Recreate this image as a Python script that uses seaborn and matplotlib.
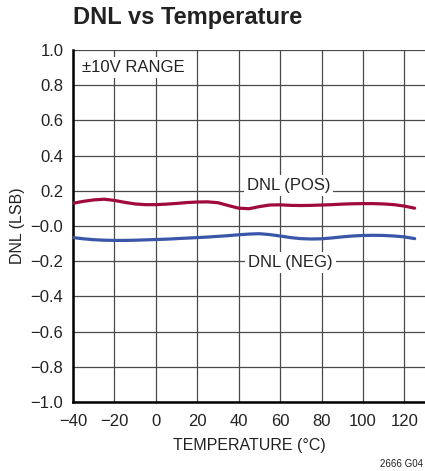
"""DNL vs temperature chart."""

import matplotlib
matplotlib.use('Agg')
import matplotlib.pyplot as plt
import seaborn as sns
import pandas as pd

# data
temperature = [-40, -35, -30, -25, -20, -15, -10, -5, 0, 5, 10, 15, 20, 25, 30, 35, 40,
               45, 50, 55, 60, 65, 70, 75, 80, 85, 90, 95, 100, 105, 110, 115, 120, 125]
dnl_pos = [0.129, 0.140, 0.148, 0.152, 0.145, 0.134, 0.125, 0.121, 0.121, 0.124, 0.128,
           0.133, 0.136, 0.137, 0.132, 0.116, 0.101, 0.098, 0.110, 0.119, 0.120, 0.117,
           0.116, 0.117, 0.119, 0.121, 0.124, 0.126, 0.127, 0.127, 0.125, 0.121, 0.113, 0.101]
dnl_neg = [-0.066, -0.073, -0.078, -0.081, -0.082, -0.082, -0.081, -0.079, -0.077, -0.075,
           -0.072, -0.069, -0.066, -0.063, -0.059, -0.055, -0.050, -0.046, -0.044, -0.049,
           -0.057, -0.066, -0.072, -0.074, -0.073, -0.068, -0.062, -0.057, -0.054, -0.053,
           -0.054, -0.057, -0.062, -0.072]

x_ticks = [-40, -20, 0, 20, 40, 60, 80, 100, 120]
y_ticks = [-1.0, -0.8, -0.6, -0.4, -0.2, 0.0, 0.2, 0.4, 0.6, 0.8, 1.0]
y_tick_labels = ['\u22121.0', '\u22120.8', '\u22120.6', '\u22120.4', '\u22120.2', '\u22120.0',
                 '0.2', '0.4', '0.6', '0.8', '1.0']
x_tick_labels = ['\u221240', '\u221220', '0', '20', '40', '60', '80', '100', '120']

POS_COLOR = '#A00A3C'
NEG_COLOR = '#3A56A8'
GRID_COLOR = '#4a4a4a'
TEXT_COLOR = '#222222'

sns.set_style('white')
plt.rcParams['font.family'] = ['Liberation Sans', 'DejaVu Sans']

df = pd.DataFrame({'temp': temperature, 'pos': dnl_pos, 'neg': dnl_neg})

fig = plt.figure(figsize=(4.25, 4.71), dpi=100)
ax = fig.add_axes([0.172, 0.1465, 0.828, 0.7475])

sns.lineplot(data=df, x='temp', y='pos', color=POS_COLOR, linewidth=2.3, ax=ax, zorder=3)
sns.lineplot(data=df, x='temp', y='neg', color=NEG_COLOR, linewidth=2.3, ax=ax, zorder=3)

ax.set_xlim(-40, 130)
ax.set_ylim(-1.0, 1.0)
ax.set_xticks(x_ticks)
ax.set_xticklabels(x_tick_labels)
ax.set_yticks(y_ticks)
ax.set_yticklabels(y_tick_labels)
ax.tick_params(length=0, labelsize=12, colors=TEXT_COLOR)
ax.tick_params(axis='x', pad=9)
ax.tick_params(axis='y', pad=7)
ax.grid(True, color=GRID_COLOR, linewidth=0.9)
ax.set_axisbelow(True)

for side in ['top', 'right']:
    ax.spines[side].set_visible(False)
for side in ['left', 'bottom']:
    ax.spines[side].set_color('black')
    ax.spines[side].set_linewidth(1.8)

ax.set_xlabel('TEMPERATURE (\u00b0C)', fontsize=11.5, color=TEXT_COLOR, labelpad=6)
ax.set_ylabel('DNL (LSB)', fontsize=11.5, color=TEXT_COLOR, labelpad=4)

bbox = dict(facecolor='white', edgecolor='none', pad=2)
ax.text(64, 0.229, 'DNL (POS)', ha='center', va='center', fontsize=12,
        color=TEXT_COLOR, bbox=bbox, zorder=2)
ax.text(65, -0.209, 'DNL (NEG)', ha='center', va='center', fontsize=12,
        color=TEXT_COLOR, bbox=bbox, zorder=2)
ax.text(-35.7, 0.90, '\u00b110V RANGE', ha='left', va='center', fontsize=12,
        color=TEXT_COLOR, bbox=bbox, zorder=2)

fig.text(0.172, 0.962, 'DNL vs Temperature', ha='left', va='center',
         fontsize=17, fontweight='bold', color=TEXT_COLOR)
fig.text(0.995, 0.015, '2666 G04', ha='right', va='center', fontsize=7, color=TEXT_COLOR)

fig.savefig('out.png', dpi=100)
